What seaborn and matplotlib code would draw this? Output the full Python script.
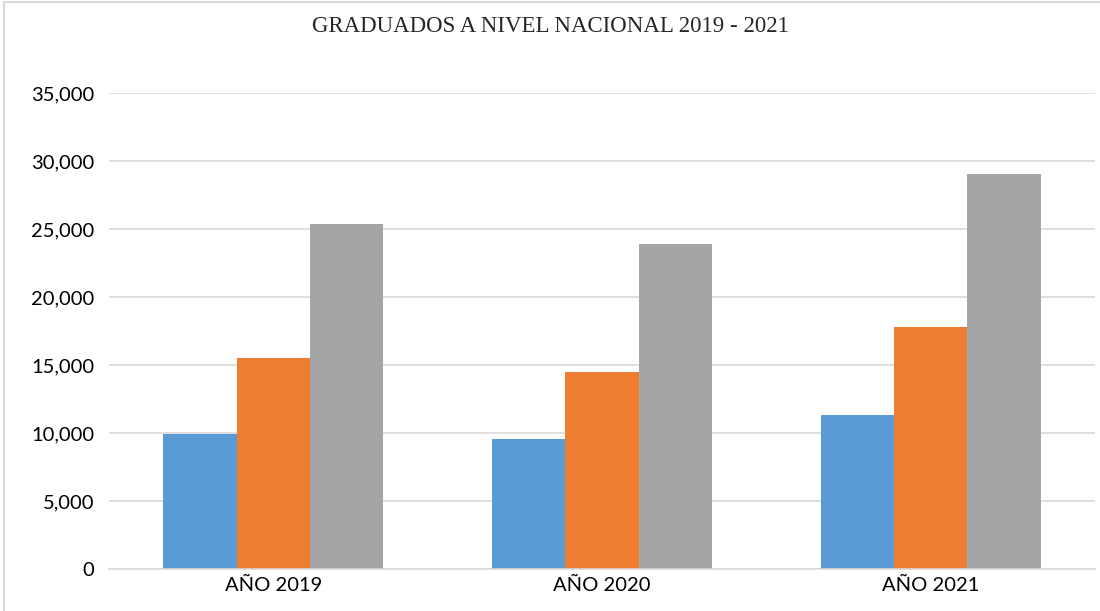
import numpy as np
import pandas as pd
import matplotlib.pyplot as plt
import seaborn as sns
from matplotlib.patches import Rectangle
from matplotlib.ticker import FuncFormatter

years = ["AÑO 2019", "AÑO 2020", "AÑO 2021"]
series = ["Serie 1", "Serie 2", "Serie 3"]
serie1 = [9900, 9540, 11300]
serie2 = [15480, 14450, 17830]
serie3 = [25390, 23920, 29050]
colors = ["#5B9BD5", "#ED7D31", "#A5A5A5"]

df = pd.DataFrame({
    "year": years * 3,
    "serie": np.repeat(series, 3),
    "value": serie1 + serie2 + serie3,
})

sns.set_style("white")
plt.rcParams["font.family"] = ["Lato", "DejaVu Sans"]

fig = plt.figure(figsize=(11, 6.11), dpi=100)
ax = fig.add_axes([0.099, 0.0687, 0.8965, 0.7791])

sns.barplot(data=df, x="year", y="value", hue="serie", palette=colors,
            width=0.67, saturation=1, linewidth=0, ax=ax, legend=False)

ax.set_xlim(-0.5, 2.5)
ax.set_ylim(0, 35000)
ax.set_yticks(np.arange(0, 35001, 5000))
ax.yaxis.set_major_formatter(FuncFormatter(lambda v, p: f"{int(v):,}"))
ax.grid(axis="y", color="#D9D9D9", linewidth=1.2)
ax.set_axisbelow(True)
for s in ["top", "right", "left"]:
    ax.spines[s].set_visible(False)
ax.spines["bottom"].set_color("#D9D9D9")
ax.spines["bottom"].set_linewidth(1.2)
ax.tick_params(axis="both", length=0, labelsize=14.5, colors="#000000")
ax.tick_params(axis="y", pad=10.5)
ax.tick_params(axis="x", pad=6)
ax.set_xlabel("")
ax.set_ylabel("")

fig.text(0.5, 0.957, "GRADUADOS A NIVEL NACIONAL 2019 - 2021",
         ha="center", va="center", fontsize=16.5,
         family=["Liberation Serif", "DejaVu Serif"])

fig.patches.append(Rectangle((0.004, -0.1), 1.1, 1.097, transform=fig.transFigure,
                             fill=False, edgecolor="#D9D9D9", linewidth=1.5))

fig.savefig("out.png", dpi=100)
